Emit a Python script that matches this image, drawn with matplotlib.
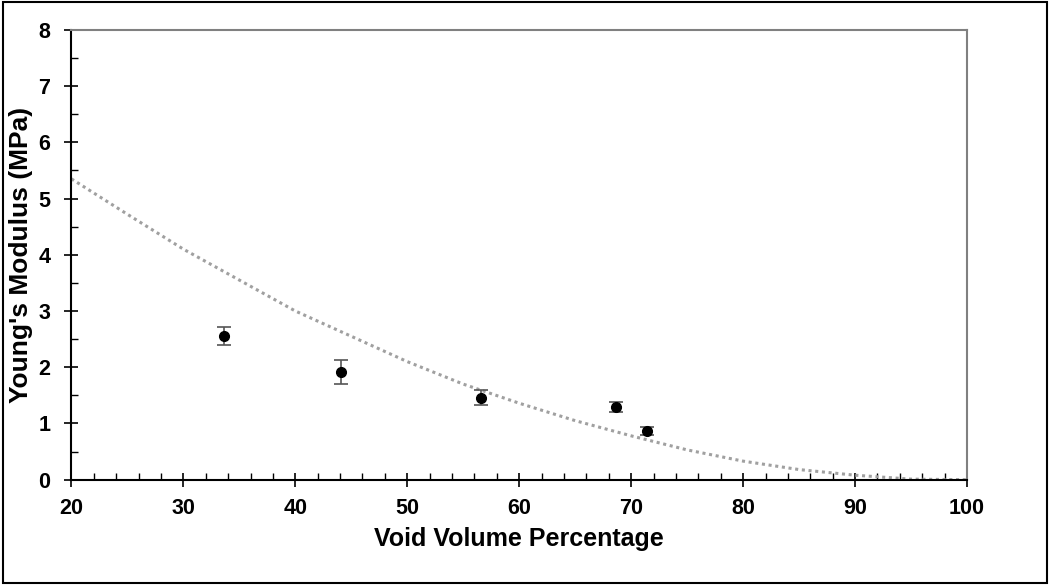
import numpy as np
import matplotlib.pyplot as plt
from matplotlib.patches import Rectangle

plt.rcParams['font.family'] = ['Liberation Sans', 'DejaVu Sans']

# Measured points
void_pct = [33.6, 44.1, 56.6, 68.6, 71.4]
modulus = [2.55, 1.92, 1.46, 1.29, 0.86]
modulus_err = [0.16, 0.21, 0.14, 0.09, 0.07]

# Model curve
curve_x = [20, 25, 30, 35, 40, 45, 50, 55, 60, 65, 70, 75, 80, 85, 90, 95, 100]
curve_y = [5.35, 4.72, 4.1, 3.55, 3.0, 2.55, 2.1, 1.7, 1.36, 1.05, 0.78, 0.53, 0.33, 0.18, 0.08, 0.01, 0.0]

fig = plt.figure(figsize=(10.5, 5.85), dpi=100)
ax = fig.add_axes([0.068, 0.18, 0.853, 0.769])

ax.plot(curve_x, curve_y, color='#a0a0a0', linestyle=(0, (1, 1.2)), linewidth=2.2, zorder=2)
ax.errorbar(void_pct, modulus, yerr=modulus_err, fmt='o', color='black', markersize=7,
            ecolor='#555555', elinewidth=1.2, capsize=5, capthick=1.2, zorder=3)

ax.set_xlim(20, 100)
ax.set_ylim(0, 8)
ax.set_xticks(np.arange(20, 101, 10))
ax.set_xticks(np.arange(20, 101, 2), minor=True)
ax.set_yticks(np.arange(0, 9, 1))
ax.set_yticks(np.arange(0, 8.1, 0.5), minor=True)
ax.tick_params(which='major', direction='inout', length=10, width=1.2, labelsize=15.5)
ax.tick_params(axis='x', which='major', pad=8)
ax.tick_params(axis='y', which='major', pad=10)
ax.tick_params(which='minor', direction='in', length=5, width=1.0)
for lab in ax.get_xticklabels() + ax.get_yticklabels():
    lab.set_fontweight('bold')

ax.spines['left'].set_linewidth(1.5)
ax.spines['bottom'].set_linewidth(1.5)
ax.spines['top'].set_color('#808080')
ax.spines['right'].set_color('#808080')
ax.spines['top'].set_linewidth(1.5)
ax.spines['right'].set_linewidth(1.5)

ax.set_xlabel('Void Volume Percentage', fontsize=18, fontweight='bold', labelpad=6)
ax.set_ylabel("Young's Modulus (MPa)", fontsize=19, fontweight='bold', labelpad=4)

fig.patches.append(Rectangle((0.003, 0.004), 0.994, 0.992, transform=fig.transFigure,
                             fill=False, edgecolor='black', linewidth=1.5))

fig.savefig('out.png', dpi=100)
